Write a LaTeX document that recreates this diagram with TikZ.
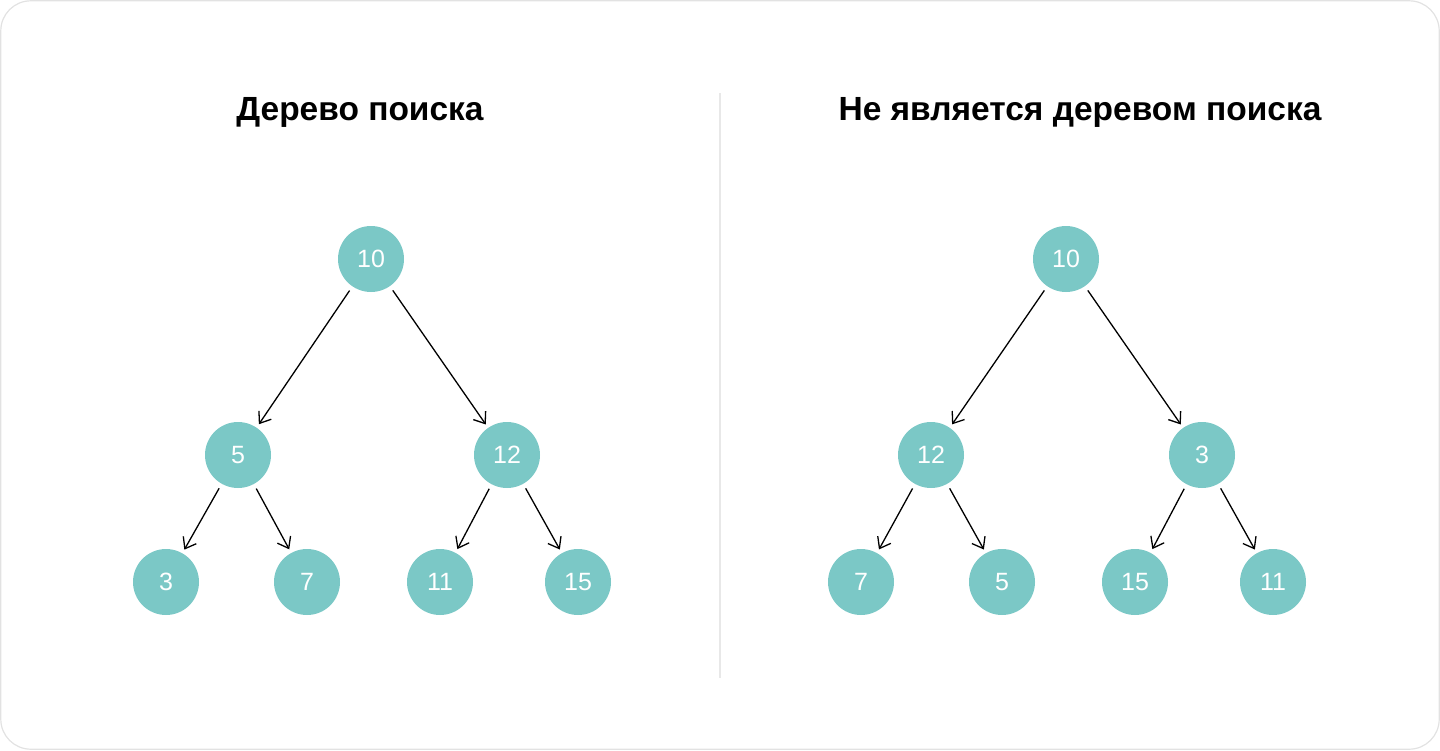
\documentclass[tikz,border=0pt]{standalone}
\usepackage{fontspec}
\setmainfont{Liberation Sans}
\usetikzlibrary{arrows.meta}
\definecolor{nodefill}{HTML}{7BC8C6}
\definecolor{framegray}{HTML}{E2E2E2}
\definecolor{divgray}{HTML}{E8E8E8}
\tikzset{
  treenode/.style={circle, fill=nodefill, draw=none, minimum size=66pt, inner sep=0pt,
    text=white, font=\fontsize{25}{25}\selectfont},
  edge/.style={draw=black, line width=1.3pt, shorten <=5pt, shorten >=4pt,
    -{Straight Barb[length=10pt,width=15pt,line width=1.3pt]}},
  title/.style={font=\fontsize{33.5}{33.5}\selectfont\bfseries, text=black, inner sep=0pt}
}
\begin{document}
\begin{tikzpicture}[x=1pt,y=-1pt]
\useasboundingbox (0,0) rectangle (1440,750);
\draw[framegray, line width=1.2pt, rounded corners=30pt] (0.8,0.8) rectangle (1439.2,749.2);
\coordinate (dtop) at (720,93);
\coordinate (dbot) at (720,678);
\draw[divgray, line width=2pt] (dtop) -- (dbot);

\node[title] (t1) at (360,112) {Дерево поиска};
\node[title] (t2) at (1080,112) {Не является деревом поиска};

% left tree
\node[treenode] (a10) at (371,259) {10};
\node[treenode] (a5) at (238,455) {5};
\node[treenode] (a12) at (507,455) {12};
\node[treenode] (a3) at (166,582) {3};
\node[treenode] (a7) at (307,582) {7};
\node[treenode] (a11) at (440,582) {11};
\node[treenode] (a15) at (578,582) {15};
\draw[edge] (a10) -- (a5);
\draw[edge] (a10) -- (a12);
\draw[edge] (a5) -- (a3);
\draw[edge] (a5) -- (a7);
\draw[edge] (a12) -- (a11);
\draw[edge] (a12) -- (a15);

% right tree
\node[treenode] (b10) at (1066,259) {10};
\node[treenode] (b12) at (931,455) {12};
\node[treenode] (b3) at (1202,455) {3};
\node[treenode] (b7) at (861,582) {7};
\node[treenode] (b5) at (1002,582) {5};
\node[treenode] (b15) at (1135,582) {15};
\node[treenode] (b11) at (1273,582) {11};
\draw[edge] (b10) -- (b12);
\draw[edge] (b10) -- (b3);
\draw[edge] (b12) -- (b7);
\draw[edge] (b12) -- (b5);
\draw[edge] (b3) -- (b15);
\draw[edge] (b3) -- (b11);
\end{tikzpicture}
\end{document}
